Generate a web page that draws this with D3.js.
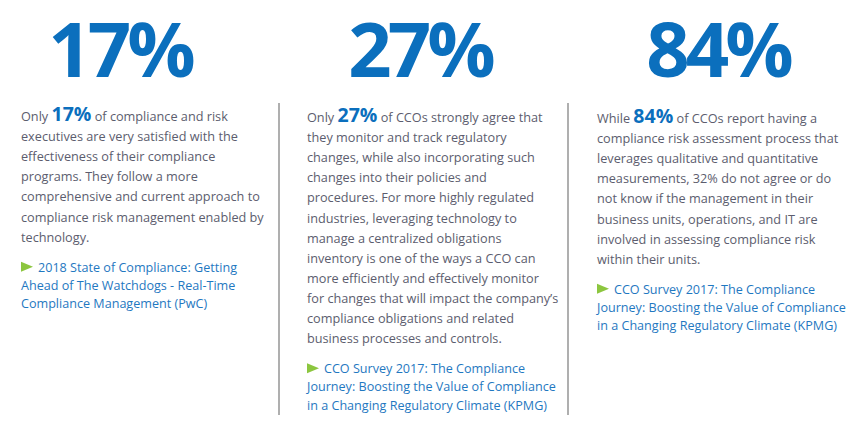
<!DOCTYPE html>
<html><head><meta charset="utf-8">
<script src="https://cdn.jsdelivr.net/npm/d3@7"></script>
<style>html,body{margin:0;padding:0;background:#fff;}svg{display:block;}</style>
</head><body><div id="chart"></div>
<script>
const stats = [17, 27, 84];
const statCenters = [120, 420, 718];
const colX = [21, 307, 597];
const leadWords = ["Only", "Only", "While"];
const firstLineRest = [
  " of compliance and risk",
  " of CCOs strongly agree that",
  " of CCOs report having a"
];
const bodyLines = [
  ["executives are very satisfied with the",
   "effectiveness of their compliance",
   "programs. They follow a more",
   "comprehensive and current approach to",
   "compliance risk management enabled by",
   "technology."],
  ["they monitor and track regulatory",
   "changes, while also incorporating such",
   "changes into their policies and",
   "procedures. For more highly regulated",
   "industries, leveraging technology to",
   "manage a centralized obligations",
   "inventory is one of the ways a CCO can",
   "more efficiently and effectively monitor",
   "for changes that will impact the company\u2019s",
   "compliance obligations and related",
   "business processes and controls."],
  ["compliance risk assessment process that",
   "leverages qualitative and quantitative",
   "measurements, 32% do not agree or do",
   "not know if the management in their",
   "business units, operations, and IT are",
   "involved in assessing compliance risk",
   "within their units."]
];
const sourceLines = [
  ["2018 State of Compliance: Getting",
   "Ahead of The Watchdogs - Real-Time",
   "Compliance Management (PwC)"],
  ["CCO Survey 2017: The Compliance",
   "Journey: Boosting the Value of Compliance",
   "in a Changing Regulatory Climate (KPMG)"],
  ["CCO Survey 2017: The Compliance",
   "Journey: Boosting the Value of Compliance",
   "in a Changing Regulatory Climate (KPMG)"]
];
const firstBaseline = [121, 122, 123];
const dividerX = [279, 568];

const W = 857, H = 432;
const FONT = "'Open Sans', sans-serif";
const BLUE = "#0b6fbd", GREY = "#5c5d6e", LINK = "#1f78c1", GREEN = "#8cc63f";
const lineH = 20.1, srcH = 18.2;

const svg = d3.select("#chart").append("svg").attr("width", W).attr("height", H);

const yBody = d3.scaleLinear().domain([0, 1]).range([0, lineH]);
const ySrc = d3.scaleLinear().domain([0, 1]).range([0, srcH]);

svg.selectAll("line.div").data(dividerX).join("line")
  .attr("x1", d => d).attr("x2", d => d).attr("y1", 103).attr("y2", 415)
  .attr("stroke", "#7a7a7a").attr("stroke-width", 1.2);

stats.forEach((v, i) => {
  const g = svg.append("g");
  g.append("text").attr("x", statCenters[i]).attr("y", 77)
    .attr("text-anchor", "middle")
    .style("font-family", FONT).style("font-weight", 700)
    .style("font-size", "76px").style("letter-spacing", "-4px")
    .attr("fill", BLUE).text(v + "%");

  const t = g.append("text").attr("x", colX[i]).attr("y", firstBaseline[i])
    .style("font-family", FONT).style("font-size", "12.7px").attr("fill", GREY);
  t.append("tspan").text(leadWords[i] + " ");
  t.append("tspan").style("font-size", "19.5px").style("font-weight", 700)
    .attr("fill", BLUE).text(v + "%");
  t.append("tspan").text(firstLineRest[i]);

  g.selectAll("text.body").data(bodyLines[i]).join("text")
    .attr("class", "body")
    .attr("x", colX[i])
    .attr("y", (d, j) => firstBaseline[i] + yBody(j + 1))
    .style("font-family", FONT).style("font-size", "12.7px").attr("fill", GREY)
    .text(d => d);

  const srcTop = firstBaseline[i] + yBody(bodyLines[i].length + 1) + 10;
  g.selectAll("text.src").data(sourceLines[i]).join("text")
    .attr("class", "src")
    .attr("x", (d, j) => j === 0 ? colX[i] + 17 : colX[i])
    .attr("y", (d, j) => srcTop + ySrc(j))
    .style("font-family", FONT).style("font-size", "12.6px").attr("fill", LINK)
    .text(d => d);
  g.append("path")
    .attr("d", `M${colX[i]},${srcTop - 10}L${colX[i] + 12},${srcTop - 5}L${colX[i]},${srcTop}Z`)
    .attr("fill", GREEN);
});
</script></body></html>
